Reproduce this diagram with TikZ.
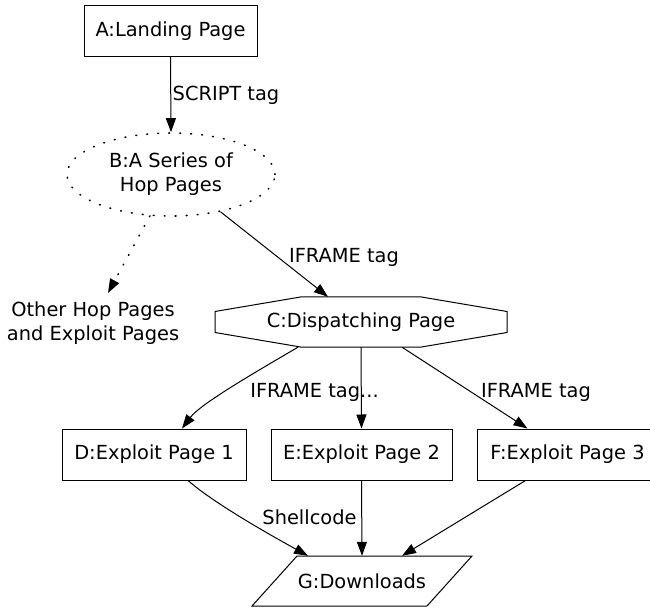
\documentclass[tikz,border=0pt]{standalone}
\usepackage{fontspec}
\setmainfont{DejaVu Sans}
\usetikzlibrary{arrows.meta,shapes.geometric,calc}
\begin{document}
\begin{tikzpicture}[x=1pt,y=-1pt,
  every node/.style={font=\fontsize{19.4pt}{24pt}\selectfont, inner sep=0pt},
  box/.style={draw, line width=1pt, rectangle, minimum height=51pt},
  shapeline/.style={draw, line width=1pt},
  edge/.style={line width=1pt, -{Triangle[length=14pt,width=10pt]}},
  dotline/.style={line width=1.6pt, line cap=round, dash pattern=on 0.8pt off 10.2pt}
]
\clip (0,0) rectangle (650,609);
\fill[white] (0,0) rectangle (650,609);

% nodes
\node[box, minimum width=173pt] (A) at (170.5,31) {A:Landing Page};
\node[ellipse, draw, dotline, minimum width=208pt, minimum height=83pt, align=center] (B) at (171,174.5) {B:A Series of\\Hop Pages};
\node[align=center, anchor=north, inner ysep=9pt] (O) at (93,293) {Other Hop Pages\\and Exploit Pages};
\node[minimum width=292pt, minimum height=50pt] (C) at (361,322) {C:Dispatching Page};
\draw[shapeline] ($(C.center)+(-146,-10.5)$) -- ($(C.center)+(-60.5,-25)$) -- ($(C.center)+(60.5,-25)$) -- ($(C.center)+(146,-10.5)$) -- ($(C.center)+(146,10.5)$) -- ($(C.center)+(60.5,25)$) -- ($(C.center)+(-60.5,25)$) -- ($(C.center)+(-146,10.5)$) -- cycle;
\node[box, minimum width=184pt] (D) at (154,454.5) {D:Exploit Page 1};
\node[box, minimum width=181pt] (E) at (361.5,454.5) {E:Exploit Page 2};
\node[box, minimum width=181pt] (F) at (567.5,454.5) {F:Exploit Page 3};
\node[minimum width=220pt, minimum height=50pt] (G) at (362,581) {G:Downloads};
\draw[shapeline] ($(G.center)+(-65,-25)$) -- ($(G.center)+(110,-25)$) -- ($(G.center)+(65,25)$) -- ($(G.center)+(-110,25)$) -- cycle;

% labels
\node (l1) at (226,95) {SCRIPT tag};
\node (l2) at (344,257) {IFRAME tag};
\node (l3) at (314.5,392) {IFRAME tag...};
\node (l4) at (536,392) {IFRAME tag};
\node (l5) at (309.5,517) {Shellcode};

% edges
\draw[edge] (A.south) -- (B.north);
\draw[edge] (B.-37) -- ([xshift=-33pt]C.north);
\draw[edge, dotline] (B.-117) -- ([xshift=15pt]O.north);
\draw[edge] ([xshift=-63pt]C.south) .. controls +(-48,28) and +(18,-24) .. ([xshift=28pt]D.north);
\draw[edge] (C.south) -- (E.north);
\draw[edge] ([xshift=41pt]C.south) -- ([xshift=-40pt]F.north);
\draw[edge] ([xshift=34pt]D.south) .. controls +(25,22) and +(-40,-22) .. ([xshift=-54pt]G.north);
\draw[edge] (E.south) -- (G.north);
\draw[edge] ([xshift=-42pt]F.south) -- ([xshift=40pt]G.north);
\end{tikzpicture}
\end{document}
